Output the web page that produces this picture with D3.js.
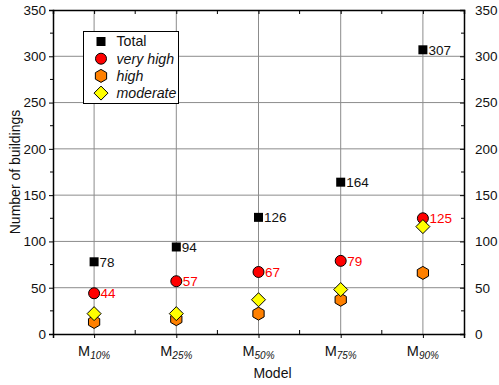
<!DOCTYPE html>
<html><head><meta charset="utf-8">
<script src="https://cdn.jsdelivr.net/npm/d3@7"></script>
<style>body{margin:0;background:#fff}svg{display:block}text{font-family:"Liberation Sans",Arial,sans-serif}</style>
</head><body><svg id="c" width="499" height="385"></svg>
<script>
const categories = ["10%","25%","50%","75%","90%"];
const total = [78,94,126,164,307];
const veryHigh = [44,57,67,79,125];
const high = [13,16,22,37,66];
const moderate = [22,22,37,48,116];
const yTicks = [0,50,100,150,200,250,300,350];

const svg = d3.select("#c");
const L=53,R=464,T=10,B=334;
const x = d3.scaleLinear().domain([0.5,5.5]).range([L,R]);
const y = d3.scaleLinear().domain([0,350]).range([B,T]);
const g = svg.append("g");

// gridlines
g.selectAll(".vg").data(categories).join("line")
  .attr("x1",(d,i)=>x(i+1)).attr("x2",(d,i)=>x(i+1)).attr("y1",T).attr("y2",B)
  .attr("stroke","#8c8c8c").attr("stroke-width",1);
g.selectAll(".hg").data(yTicks.filter(v=>v>0&&v<350)).join("line")
  .attr("x1",L).attr("x2",R).attr("y1",d=>y(d)).attr("y2",d=>y(d))
  .attr("stroke","#8c8c8c").attr("stroke-width",1);

// axes
const minorY = d3.range(25,350,50);
const yl = d3.axisLeft(y).tickValues(yTicks).tickSize(4).tickPadding(3);
const ylg = g.append("g").attr("transform",`translate(${L},0)`).call(yl);
const yr = d3.axisRight(y).tickValues(yTicks).tickSize(-4).tickPadding(11);
const yrg = g.append("g").attr("transform",`translate(${R},0)`).call(yr);
[ylg,yrg].forEach(a=>{a.select(".domain").attr("stroke","#000").attr("stroke-width",1.5);
  a.selectAll("text").attr("font-size",13.5).attr("fill","#111").style("font-family","Liberation Sans, Arial, sans-serif");
  a.selectAll(".tick line").attr("stroke","#000");});
g.selectAll(".myl").data(minorY).join("line").attr("x1",L-3).attr("x2",L).attr("y1",d=>y(d)).attr("y2",d=>y(d)).attr("stroke","#000");
g.selectAll(".myr").data(minorY).join("line").attr("x1",R-3).attr("x2",R).attr("y1",d=>y(d)).attr("y2",d=>y(d)).attr("stroke","#000");

const xt = d3.range(1,6);
const xb = d3.axisBottom(x).tickValues(xt).tickSize(4).tickFormat("");
const xbg = g.append("g").attr("transform",`translate(0,${B})`).call(xb);
const xtop = d3.axisTop(x).tickValues(xt).tickSize(-4).tickFormat("");
const xtg = g.append("g").attr("transform",`translate(0,${T})`).call(xtop);
[xbg,xtg].forEach(a=>{a.select(".domain").attr("stroke","#000").attr("stroke-width",1.5);a.selectAll(".tick line").attr("stroke","#000");});
const minorX = d3.range(1.5,5.5,1);
g.selectAll(".mxb").data(minorX).join("line").attr("x1",d=>x(d)).attr("x2",d=>x(d)).attr("y1",B-4).attr("y2",B).attr("stroke","#000");
g.selectAll(".mxt").data(minorX).join("line").attr("x1",d=>x(d)).attr("x2",d=>x(d)).attr("y1",T).attr("y2",T+4).attr("stroke","#000");

// x labels
const xl = g.selectAll(".xl").data(categories).join("text")
  .attr("x",(d,i)=>x(i+1)).attr("y",356).attr("text-anchor","middle").attr("font-size",14.5).attr("fill","#111");
xl.append("tspan").text("M");
xl.append("tspan").attr("font-size",10).attr("font-style","italic").attr("dy",3).text(d=>d);

svg.append("text").attr("x",x(3)+14).attr("y",378).attr("text-anchor","middle").attr("font-size",14).attr("fill","#111").text("Model");
svg.append("text").attr("transform",`translate(20,${(T+B)/2}) rotate(-90)`).attr("text-anchor","middle").attr("font-size",14).attr("fill","#111").text("Number of buildings");

// symbols
const hex = r => { const p=[]; for(let k=0;k<6;k++){const a=Math.PI/3*k; p.push([r*Math.sin(a),-r*Math.cos(a)]);} return "M"+p.map(q=>q.join(",")).join("L")+"Z"; };
const diamond = r => `M0,${-r}L${r},0L0,${r}L${-r},0Z`;
const square = s => `M${-s},${-s}H${s}V${s}H${-s}Z`;

function drawSeries(vals, path, fill, stroke){
  g.selectAll(null).data(vals).join("path")
   .attr("transform",(d,i)=>`translate(${x(i+1)},${y(d)})`)
   .attr("d",path).attr("fill",fill).attr("stroke",stroke).attr("stroke-width",1);
}
drawSeries(total, square(4.5), "#000", "none");
g.selectAll(null).data(veryHigh).join("circle").attr("cx",(d,i)=>x(i+1)).attr("cy",d=>y(d)).attr("r",5.5)
  .attr("fill","#ff0000").attr("stroke","#000").attr("stroke-width",1);
drawSeries(high, hex(6.5), "#ff8000", "#000");
drawSeries(moderate, diamond(7), "#ffff00", "#000");

g.selectAll(null).data(total).join("text").attr("x",(d,i)=>x(i+1)+5.5).attr("y",d=>y(d)).attr("dy","0.35em")
  .attr("font-size",13.5).attr("fill","#111").text(d=>d);
g.selectAll(null).data(veryHigh).join("text").attr("x",(d,i)=>x(i+1)+6.5).attr("y",d=>y(d)).attr("dy","0.35em")
  .attr("font-size",13.5).attr("fill","#ff0000").text(d=>d);

// legend
const lg = svg.append("g");
lg.append("rect").attr("x",83.5).attr("y",31.5).attr("width",95).attr("height",72).attr("fill","#fff").attr("stroke","#000").attr("stroke-width",1);
const items = [
  {name:"Total", d:square(4.5), fill:"#000", stroke:"none", it:false},
  {name:"very high", circle:true, fill:"#ff0000", stroke:"#000", it:true},
  {name:"high", d:hex(6.5), fill:"#ff8000", stroke:"#000", it:true},
  {name:"moderate", d:diamond(7), fill:"#ffff00", stroke:"#000", it:true}
];
items.forEach((it,k)=>{
  const yy = 41.5 + k*17.2;
  if(it.circle) lg.append("circle").attr("cx",101).attr("cy",yy).attr("r",5.5).attr("fill",it.fill).attr("stroke",it.stroke);
  else lg.append("path").attr("transform",`translate(101,${yy})`).attr("d",it.d).attr("fill",it.fill).attr("stroke",it.stroke);
  lg.append("text").attr("x",116.5).attr("y",yy).attr("dy","0.35em").attr("font-size",14.2).attr("fill","#111")
    .attr("font-style",it.it?"italic":"normal").text(it.name);
});
</script></body></html>
